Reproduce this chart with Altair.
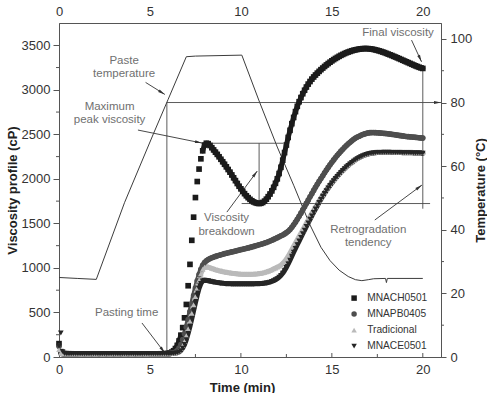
import math
import altair as alt
import pandas as pd

FONT = "Liberation Sans"
AX = "#555555"

# ---------------------------------------------------------------- data
# RVA sampling times (min)
time_min = [round(i * 0.1, 1) for i in range(201)]

mnach0501 = [
    150, 60, 42, 38, 37, 36, 36, 36, 35, 35,
    35, 35, 34, 35, 35, 34, 35, 35, 35, 34,
    35, 34, 35, 35, 34, 35, 35, 34, 35, 35,
    34, 35, 35, 34, 35, 35, 35, 34, 35, 35,
    35, 34, 35, 35, 34, 35, 35, 35, 34, 35,
    35, 35, 34, 35, 35, 35, 36, 36, 37, 38,
    40, 45, 55, 70, 95, 130, 180, 245, 330, 440,
    590, 800, 1040, 1310, 1570, 1790, 1970, 2110, 2225, 2315,
    2380, 2400, 2395, 2375, 2350, 2325, 2300, 2275, 2248, 2220,
    2192, 2164, 2135, 2105, 2075, 2044, 2012, 1980, 1948, 1917,
    1888, 1860, 1834, 1810, 1789, 1770, 1754, 1741, 1732, 1726,
    1723, 1726, 1735, 1750, 1772, 1800, 1830, 1865, 1905, 1950,
    2000, 2060, 2130, 2210, 2295, 2380, 2465, 2545, 2620, 2690,
    2755, 2814, 2866, 2913, 2956, 2995, 3031, 3064, 3093, 3120,
    3144, 3166, 3187, 3207, 3226, 3244, 3262, 3279, 3295, 3310,
    3325, 3339, 3352, 3364, 3376, 3387, 3397, 3407, 3416, 3424,
    3431, 3438, 3444, 3449, 3453, 3457, 3460, 3462, 3463, 3463,
    3462, 3460, 3457, 3453, 3448, 3443, 3437, 3431, 3424, 3417,
    3409, 3401, 3393, 3385, 3376, 3368, 3359, 3350, 3341, 3332,
    3323, 3314, 3305, 3296, 3287, 3278, 3269, 3261, 3253, 3246,
    3240,
]

mnapb0405 = [
    120, 50, 40, 37, 36, 36, 35, 35, 35, 35,
    35, 36, 35, 35, 35, 36, 35, 35, 36, 35,
    35, 35, 36, 35, 35, 35, 36, 35, 35, 35,
    36, 35, 35, 35, 36, 35, 35, 35, 36, 35,
    35, 35, 36, 35, 35, 35, 36, 35, 35, 35,
    35, 35, 35, 35, 35, 35, 35, 36, 36, 37,
    38, 40, 43, 48, 56, 72, 100, 140, 195, 260,
    335, 420, 510, 600, 690, 775, 855, 925, 985, 1030,
    1060, 1080, 1094, 1105, 1114, 1122, 1129, 1136, 1142, 1148,
    1154, 1160, 1165, 1170, 1175, 1180, 1185, 1190, 1195, 1200,
    1205, 1210, 1215, 1220, 1225, 1230, 1236, 1242, 1248, 1254,
    1260, 1266, 1272, 1279, 1286, 1294, 1302, 1311, 1320, 1330,
    1340, 1350, 1360, 1370, 1382, 1396, 1412, 1432, 1456, 1484,
    1514, 1546, 1580, 1615, 1651, 1687, 1724, 1761, 1798, 1834,
    1870, 1905, 1939, 1972, 2004, 2035, 2068, 2099, 2129, 2158,
    2186, 2213, 2239, 2264, 2288, 2311, 2333, 2354, 2374, 2393,
    2411, 2428, 2444, 2458, 2469, 2479, 2489, 2498, 2505, 2511,
    2516, 2519, 2520, 2520, 2519, 2518, 2516, 2514, 2512, 2510,
    2508, 2506, 2503, 2500, 2497, 2494, 2491, 2488, 2485, 2482,
    2479, 2476, 2474, 2472, 2470, 2468, 2466, 2464, 2462, 2460,
    2458,
]

tradicional = [
    85, 45, 38, 36, 35, 35, 35, 35, 35, 35,
    35, 35, 34, 35, 35, 35, 34, 35, 35, 35,
    34, 35, 35, 35, 34, 35, 35, 35, 34, 35,
    35, 35, 34, 35, 35, 35, 34, 35, 35, 35,
    34, 35, 35, 35, 34, 35, 35, 35, 34, 35,
    35, 35, 35, 35, 35, 35, 35, 35, 35, 36,
    37, 38, 40, 43, 48, 56, 70, 94, 128, 175,
    238, 315, 400, 490, 585, 680, 775, 862, 935, 985,
    1008, 1014, 1010, 1003, 996, 989, 982, 976, 970, 965,
    960, 956, 952, 948, 945, 942, 939, 937, 935, 933,
    931, 930, 929, 929, 929, 929, 930, 931, 933, 935,
    938, 941, 945, 950, 956, 963, 971, 980, 990, 1000,
    1010, 1020, 1032, 1050, 1073, 1100, 1132, 1168, 1205, 1243,
    1279, 1316, 1353, 1389, 1425, 1465, 1503, 1540, 1577, 1613,
    1649, 1685, 1720, 1754, 1787, 1819, 1850, 1880, 1909, 1937,
    1963, 1989, 2013, 2037, 2059, 2081, 2101, 2121, 2140, 2158,
    2175, 2190, 2205, 2219, 2232, 2244, 2255, 2264, 2272, 2279,
    2285, 2290, 2294, 2297, 2299, 2301, 2302, 2303, 2304, 2304,
    2304, 2304, 2304, 2303, 2303, 2302, 2302, 2301, 2301, 2300,
    2300, 2299, 2299, 2298, 2298, 2297, 2297, 2296, 2296, 2295,
    2295,
]

mnace0501 = [
    120, 270, 60, 40, 37, 36, 36, 36, 36, 36,
    36, 36, 37, 36, 36, 36, 37, 36, 36, 36,
    37, 36, 36, 36, 37, 36, 36, 36, 37, 36,
    36, 36, 37, 36, 36, 36, 37, 36, 36, 36,
    37, 36, 36, 36, 37, 36, 36, 36, 37, 36,
    36, 36, 36, 36, 36, 36, 36, 36, 36, 36,
    36, 37, 38, 40, 43, 48, 56, 72, 100, 140,
    195, 265, 345, 430, 520, 610, 695, 770, 825, 855,
    862, 860, 856, 851, 846, 842, 838, 835, 832, 829,
    827, 825, 823, 822, 821, 820, 819, 819, 819, 819,
    819, 819, 819, 819, 819, 819, 820, 820, 821, 822,
    823, 824, 826, 828, 831, 835, 841, 848, 856, 867,
    880, 895, 915, 940, 970, 1005, 1045, 1088, 1132, 1176,
    1219, 1261, 1302, 1343, 1384, 1425, 1466, 1506, 1546, 1585,
    1624, 1662, 1699, 1735, 1770, 1804, 1836, 1867, 1897, 1926,
    1953, 1979, 2004, 2028, 2051, 2073, 2094, 2114, 2133, 2151,
    2168, 2184, 2199, 2213, 2226, 2238, 2249, 2258, 2266, 2273,
    2279, 2284, 2288, 2291, 2293, 2295, 2296, 2297, 2298, 2298,
    2298, 2298, 2298, 2297, 2297, 2296, 2296, 2295, 2295, 2294,
    2294, 2293, 2293, 2292, 2292, 2291, 2291, 2290, 2290, 2289,
    2289,
]

# temperature programme of the RVA run
temp_time = [0.0, 1.0, 2.05, 3.6, 5.2, 6.0, 7.0, 7.5, 10.05, 11.0, 12.0,
             12.9, 13.8, 14.4, 14.9, 15.4, 15.9, 16.3, 16.65, 17.0, 17.3,
             17.95, 18.0, 18.05, 20.0]
temp_c = [25.0, 24.7, 24.4, 48.5, 70.3, 81.0, 94.4, 94.6, 94.9, 80.5, 66.0,
          54.0, 41.5, 34.5, 30.3, 27.3, 25.3, 24.3, 24.0, 24.3, 24.6,
          24.7, 23.4, 24.7, 24.7]

series_names = ["MNACH0501", "MNAPB0405", "Tradicional", "MNACE0501"]
series_values = [mnach0501, mnapb0405, tradicional, mnace0501]

pasting_time = 5.93      # min
paste_temp = 80          # degC

# ---------------------------------------------------------------- styling
series_colors = ["#1b1b1b", "#4e4e4e", "#bababa", "#262626"]
series_shapes = ["square", "circle", "triangle-up", "triangle-down"]

W, H = 382, 334
X_DOM = [0, 21]
VISC_DOM = [0, 3750]
TEMP_DOM = [0, 105]
ARROW_PATH = "M0,0L0.42,2L-0.42,2Z"

x_bottom = alt.Axis(
    orient="bottom", values=[0, 5, 10, 15, 20], ticks=False, grid=False,
    domainColor=AX, labelFont=FONT, labelFontSize=13, labelColor="#333",
    labelPadding=6, labelFlush=False,
    title="Time (min)", titleFont=FONT, titleFontSize=13, titleFontWeight="bold",
    titleColor="#222", titleX=183, titleY=24, titleAlign="center",
    titleBaseline="top",
)
y_left = alt.Axis(
    orient="left", values=[0, 500, 1000, 1500, 2000, 2500, 3000, 3500],
    format="d", tickSize=6, tickColor=AX, domainColor=AX, grid=False,
    labelFont=FONT, labelFontSize=13, labelColor="#333", labelPadding=3,
    title="Viscosity profile (cP)", titleFont=FONT, titleFontSize=13,
    titleFontWeight="bold", titleColor="#222", titleX=-47, titleY=167,
    titleAngle=270, titleAlign="center", titleBaseline="middle",
)
x_top = alt.Axis(
    orient="top", values=[0, 5, 10, 15, 20], ticks=False, domain=False,
    grid=False, labelFont=FONT, labelFontSize=13, labelColor="#333",
    labelPadding=5, labelFlush=False, title=None,
)
y_right = alt.Axis(
    orient="right", values=[0, 20, 40, 60, 80, 100], tickSize=5,
    tickColor=AX, domainColor=AX, grid=False,
    labelFont=FONT, labelFontSize=13, labelColor="#333", labelPadding=4,
    title="Temperature (°C)", titleFont=FONT, titleFontSize=13,
    titleFontWeight="bold", titleColor="#222", titleX=39, titleY=167,
    titleAngle=270, titleAlign="center", titleBaseline="middle",
)


def xb(field):
    return alt.X(f"{field}:Q", scale=alt.Scale(domain=X_DOM, nice=False, zero=False), axis=x_bottom)


def xt(field):
    return alt.X(f"{field}:Q", scale=alt.Scale(domain=X_DOM, nice=False, zero=False), axis=x_top)


def yv(field):
    return alt.Y(f"{field}:Q", scale=alt.Scale(domain=VISC_DOM, nice=False), axis=y_left)


def yt(field):
    return alt.Y(f"{field}:Q", scale=alt.Scale(domain=TEMP_DOM, nice=False), axis=y_right)


def head_angle(t0, v0, t1, v1, sx, sy):
    dx = (t1 - t0) * sx
    dy = -(v1 - v0) * sy
    return math.degrees(math.atan2(dx, -dy)) % 360


# ---------------------------------------------------------------- tables
rows = []
for name, vals in zip(series_names, series_values):
    for t, v in zip(time_min, vals):
        rows.append({"series": name, "time": t, "visc": v})
visc_df = pd.DataFrame(rows)

# RVA landmarks of MNACH0501: first (pasting) peak, trough after it, final value
hold_end = time_min.index(10.0)
peak = max(mnach0501[:hold_end])
i_peak = mnach0501.index(peak)
after_peak = mnach0501[i_peak:time_min.index(14.0)]
trough = min(after_peak)
t_trough = time_min[i_peak + after_peak.index(trough)]
final = mnach0501[-1]

guides = pd.DataFrame([
    {"t": 8.0, "t2": 12.33, "v": peak, "v2": peak},
    {"t": t_trough, "t2": t_trough, "v": trough, "v2": peak},
    {"t": 10.04, "t2": 20.4, "v": trough, "v2": trough},
    {"t": 20.0, "t2": 20.0, "v": 1665, "v2": final},
])

arrows = pd.DataFrame([
    {"t0": 4.76, "v0": 3083, "t1": 5.82, "v1": 2948},
    {"t0": 4.34, "v0": 2548, "t1": 7.86, "v1": 2402},
    {"t0": 9.23, "v0": 1627, "t1": 10.9, "v1": 2088},
    {"t0": 19.38, "v0": 3558, "t1": 19.93, "v1": 3314},
    {"t0": 17.36, "v0": 1538, "t1": 19.95, "v1": 1930},
    {"t0": 4.56, "v0": 382, "t1": 5.82, "v1": 45},
])
sxv = W / (X_DOM[1] - X_DOM[0])
syv = H / (VISC_DOM[1] - VISC_DOM[0])
arrows["ang"] = [head_angle(r.t0, r.v0, r.t1, r.v1, sxv, syv) for r in arrows.itertuples()]

labels = pd.DataFrame({
    "label": ["Paste", "temperature", "Maximum", "peak viscosity", "Viscosity",
              "breakdown", "Final viscosity", "Retrogradation", "tendency",
              "Pasting time"],
    "t": [3.58, 3.58, 2.78, 2.78, 9.21, 9.21, 18.64, 17.0, 17.0, 3.72],
    "v": [3322, 3182, 2806, 2660, 1557, 1406, 3633, 1425, 1283, 490],
})

temp_df = pd.DataFrame({"tt": temp_time, "temp": temp_c})
temp_guides = pd.DataFrame([
    {"t": pasting_time, "t2": pasting_time, "T": 0, "T2": paste_temp},
    {"t": pasting_time, "t2": X_DOM[1], "T": paste_temp, "T2": paste_temp},
])
temp_head = pd.DataFrame([{"t": X_DOM[1], "T": paste_temp, "ang": 90}])

visc_minor = pd.DataFrame({"v": [250, 750, 1250, 1750, 2250, 2750, 3250]})
temp_minor = pd.DataFrame({"T": [10, 30, 50, 70, 90]})
time_major = pd.DataFrame({"t": [5, 10, 15, 20]})
time_minor = pd.DataFrame({"t": [2.5, 7.5, 12.5, 17.5]})

# ---------------------------------------------------------------- temperature group
temp_line = alt.Chart(temp_df).mark_line(color="#3c3c3c", strokeWidth=1).encode(
    x=xt("tt"), y=yt("temp"))
temp_rules = alt.Chart(temp_guides).mark_rule(color="#4a4a4a", strokeWidth=0.9).encode(
    x=xt("t"), x2="t2", y=yt("T"), y2="T2")
temp_arrow = alt.Chart(temp_head).mark_point(
    shape=ARROW_PATH, filled=True, size=49, color="#333", opacity=1, strokeWidth=0
).encode(x=xt("t"), y=yt("T"), angle=alt.Angle("ang:Q", scale=None))
right_minor = alt.Chart(temp_minor).mark_rule(color=AX, strokeWidth=1).encode(
    y=yt("T"), x=alt.value(W), x2=alt.value(W + 3))

temp_group = alt.layer(temp_line, temp_rules, temp_arrow, right_minor)

# ---------------------------------------------------------------- viscosity group
guide_rules = alt.Chart(guides).mark_rule(color="#4a4a4a", strokeWidth=0.9).encode(
    x=xb("t"), x2="t2", y=yv("v"), y2="v2")
arrow_shafts = alt.Chart(arrows).mark_rule(color="#333", strokeWidth=0.9).encode(
    x=xb("t0"), x2="t1", y=yv("v0"), y2="v1")
arrow_heads = alt.Chart(arrows).mark_point(
    shape=ARROW_PATH, filled=True, size=49, color="#333", opacity=1, strokeWidth=0
).encode(x=xb("t1"), y=yv("v1"), angle=alt.Angle("ang:Q", scale=None))
texts = alt.Chart(labels).mark_text(
    font=FONT, fontSize=11.5, color="#707070", align="center", baseline="middle"
).encode(x=xb("t"), y=yv("v"), text="label:N")
left_minor = alt.Chart(visc_minor).mark_rule(color=AX, strokeWidth=1).encode(
    y=yv("v"), x=alt.value(-3), x2=alt.value(0))
bottom_major = alt.Chart(time_major).mark_rule(color=AX, strokeWidth=1).encode(
    x=xb("t"), y=alt.value(H), y2=alt.value(H - 4))
bottom_minor = alt.Chart(time_minor).mark_rule(color=AX, strokeWidth=1).encode(
    x=xb("t"), y=alt.value(H), y2=alt.value(H - 3))

# continuous trace under the markers (the fast first rise of MNACH0501 stays as loose markers)
line_layers = []
for name, color in zip(series_names, series_colors):
    sub = visc_df[(visc_df.series == name) & (visc_df.time >= 0.3)].copy()
    if name == "MNACH0501":
        sub = sub[(sub.time <= 6.7) | (sub.time >= 7.9)]
        sub["seg"] = (sub.time >= 7.9).astype(int)
    else:
        sub["seg"] = 0
    line_layers.append(
        alt.Chart(sub).mark_line(color=color, strokeWidth=5, strokeCap="round",
                                 strokeJoin="round").encode(
            x=xb("time"), y=yv("visc"), detail="seg:N")
    )

legend = alt.Legend(
    orient="none", legendX=290, legendY=270, padding=0, labelFont=FONT,
    labelFontSize=10.2, labelColor="#333", symbolSize=30, rowPadding=5,
    labelOffset=8, symbolStrokeWidth=0,
)
points = alt.Chart(visc_df).mark_point(filled=True, size=32, opacity=1, strokeWidth=0).encode(
    x=xb("time"),
    y=yv("visc"),
    color=alt.Color("series:N", title=None, legend=legend,
                    scale=alt.Scale(domain=series_names, range=series_colors)),
    shape=alt.Shape("series:N", title=None, legend=legend,
                    scale=alt.Scale(domain=series_names, range=series_shapes)),
)

visc_group = alt.layer(guide_rules, arrow_shafts, arrow_heads, texts, left_minor,
                       bottom_major, bottom_minor, *line_layers, points)

chart = (
    alt.layer(temp_group, visc_group)
    .resolve_scale(x="independent", y="independent")
    .properties(
        width=W, height=H,
        autosize=alt.AutoSizeParams(type="none"),
        padding={"left": 59, "top": 23, "right": 46, "bottom": 36},
        background="white",
    )
    .configure_view(stroke=AX, strokeWidth=1)
)

chart.save("out.html", embed_options={"renderer": "svg", "actions": False})
